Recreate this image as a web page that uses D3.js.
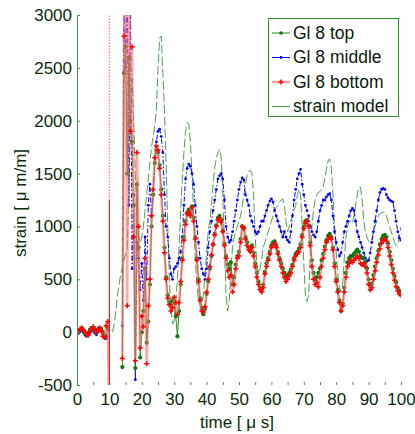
<!DOCTYPE html>
<html><head><meta charset="utf-8">
<script src="https://cdn.jsdelivr.net/npm/d3@7"></script>
<style>
body{margin:0;background:#fff}
svg{display:block}
text{font-family:"Liberation Sans",Arial,Helvetica,sans-serif}
</style>
</head><body>
<svg id="c" width="415" height="434"></svg>
<script>
// ---------------- data (strain in µm/m, sampled every 0.5 µs from 0 to 100 µs) ----------------
const seriesNames = ["Gl 8 top", "Gl 8 middle", "Gl 8 bottom", "strain model"];
const xTicks = [0, 10, 20, 30, 40, 50, 60, 70, 80, 90, 100];
const xMinorTicks = [0, 5, 10, 15, 20, 25, 30, 35, 40, 45, 50, 55, 60, 65, 70, 75, 80, 85, 90, 95, 100];
const yTicks = [-500, 0, 500, 1000, 1500, 2000, 2500, 3000];

const gl8Top = [
  0, 10, 25, 35, 15, -10, -25, -5, 25, 40,
  35, 10, -5, 20, 40, 30, 0, -30, -40, 40,
  null, null, null, null, null, null, null, null, -330, 2450,
  2700, 1500, 2600, 2000, 1800, 1200, -340, 1400, 800, -240,
  0, 200, 600, -100, 100, 450, 1000, 1300, 1600, 1720,
  1700, 1580, 1350, 1100, 800, 520, 350, 280, 250, 300,
  280, 150, -40, 200, 450, 700, 900, 1050, 1130, 1160,
  1120, 1190, 1080, 900, 700, 500, 320, 230, 170, 220,
  360, 480, 600, 720, 830, 930, 1010, 1080, 1100, 1060,
  960, 840, 720, 640, 600, 660, 450, 520, 640, 720,
  760, 880, 1000, 990, 900, 850, 800, 780, 820, 750,
  650, 560, 480, 420, 400, 450, 570, 650, 700, 760,
  820, 850, 860, 820, 760, 700, 650, 600, 560, 520,
  540, 560, 590, 640, 700, 740, 760, 790, 830, 920,
  1000, 1050, 1060, 1010, 850, 680, 560, 500, 520, 560,
  600, 680, 740, 810, 870, 910, 930, 900, 800, 650,
  500, 400, 300, 200, 270, 420, 560, 660, 700, 720,
  720, 740, 760, 780, 760, 720, 700, 700, 660, 600,
  500, 440, 460, 540, 620, 700, 770, 830, 880, 910,
  920, 900, 840, 760, 680, 600, 530, 470, 420, 390,
  370
];

const gl8Middle = [
  -20, -10, 5, 15, -5, -30, -40, -25, 5, 20,
  15, -10, -25, 0, 20, 10, -20, -50, -60, 20,
  null, null, null, null, null, null, null, null, 60, 3300,
  2500, 3400, 1200, 3300, 600, 1300, -450, 850, 700, 400,
  650, 300, 900, 500, 1200, 1400, 1100, 1300, 1600, 1800,
  1900, 1920, 1850, 1700, 1300, 1000, 900, 700, 550, 500,
  600, 620, 650, 700, 760, 900, 1200, 1450, 1550, 1590,
  1570, 1500, 1400, 1200, 1000, 850, 700, 600, 550, 500,
  600, 800, 950, 1050, 1150, 1250, 1350, 1450, 1480, 1500,
  1450, 1250, 1000, 900, 850, 870, 950, 1050, 1150, 1250,
  1350, 1420, 1460, 1440, 1300, 1250, 1200, 1100, 1050, 1000,
  950, 930, 950, 1000, 1050, 1050, 1100, 1150, 1200, 1240,
  1260, 1230, 1150, 1100, 1050, 1000, 950, 900, 950, 900,
  870, 850, 950, 1100, 1250, 1350, 1450, 1500, 1540, 1400,
  1300, 1200, 1150, 1100, 1000, 950, 920, 900, 950, 1050,
  1150, 1200, 1250, 1250, 1280, 1300, 1310, 1250, 1100, 950,
  850, 780, 720, 750, 850, 950, 1000, 1050, 1100, 1150,
  1170, 1150, 1050, 950, 900, 850, 800, 750, 700, 670,
  680, 750, 850, 950, 1050, 1150, 1250, 1320, 1350, 1360,
  1350, 1300, 1270, 1250, 1240, 1230, 1150, 1050, 950, 890,
  870
];

const gl8Bottom = [
  -10, 10, 30, 40, 20, 0, -20, -30, 0, 30,
  50, 30, 0, 30, 40, 10, -40, -50, 60, 100,
  -900, null, null, null, null, null, null, null, -250, 2800,
  3400, 250, 3500, 1900, 2700, 900, -270, 1700, 1000, -150,
  150, 50, 700, -300, 250, 500, 1100, 1350, 1650, 1760,
  1720, 1550, 1300, 1050, 750, 500, 320, 260, 200, 230,
  330, 280, 170, 280, 480, 680, 870, 1020, 1120, 1140,
  1100, 1180, 1050, 880, 680, 480, 300, 200, 190, 240,
  380, 500, 620, 730, 830, 920, 1000, 1060, 1080, 1040,
  950, 820, 700, 580, 520, 540, 380, 450, 600, 700,
  720, 850, 1000, 980, 880, 820, 780, 760, 800, 720,
  620, 520, 450, 400, 380, 420, 550, 620, 680, 740,
  800, 820, 840, 800, 740, 680, 620, 560, 520, 480,
  500, 530, 560, 620, 680, 720, 740, 760, 800, 900,
  980, 1030, 1050, 1000, 820, 620, 500, 450, 470, 430,
  520, 620, 700, 780, 850, 880, 900, 880, 780, 620,
  480, 380, 280, 200, 250, 380, 520, 620, 650, 680,
  660, 680, 700, 720, 700, 650, 640, 650, 620, 560,
  450, 400, 420, 500, 580, 660, 730, 790, 840, 870,
  880, 860, 800, 720, 640, 560, 490, 430, 390, 360,
  350
];
// bottom gauge glitch at the trigger (solid part, then dotted part)
const glitchTime = [10, 10];
const glitchSolid = [-900, 1250];
const glitchDotted = [1250, 3400];

const strainModel = [
  null, null, null, null, null, null, null, null, null, null,
  null, null, null, null, null, null, null, null, null, null,
  null, null, 0, 80, 200, 350, 450, 550, 620, 680,
  740, 800, 1300, 2000, 2400, 2000, 1500, 1100, 900, 850,
  900, 1000, 1150, 1300, 1450, 1600, 1750, 1850, 1950, 2100,
  2500, 2780, 2800, 2450, 2100, 1600, 1000, 500, 200, 80,
  100, 300, 500, 800, 1150, 1450, 1700, 1900, 1980, 1970,
  1800, 1500, 1100, 700, 450, 300, 250, 250, 350, 550,
  750, 950, 1050, 1200, 1400, 1550, 1650, 1700, 1730, 1650,
  1300, 800, 350, 200, 300, 600, 800, 900, 950, 1000,
  1050, 1100, 1200, 1300, 1400, 1480, 1520, 1530, 1500, 1300,
  900, 650, 560, 600, 700, 800, 850, 900, 950, 1000,
  1050, 1100, 1150, 1180, 1200, 1230, 1250, 1260, 1200, 1050,
  950, 1000, 1050, 1100, 1150, 1200, 1300, 1350, 1300, 1000,
  650, 350, 290, 350, 700, 1000, 1150, 1250, 1300, 1320,
  1330, 1350, 1380, 1450, 1550, 1620, 1640, 1550, 1300, 1000,
  750, 550, 420, 380, 450, 700, 900, 1000, 1050, 1050,
  1030, 1100, 1200, 1300, 1370, 1370, 1250, 1050, 950, 900,
  860, 850, 880, 950, 1000, 1050, 1100, 1120, 1130, 1135,
  1130, 1100, 1050, 1000, 950, 900, 850, 820, 830, 900,
  1000
];
const sampleStep = 0.5;

// ---------------- chart ----------------
const svg = d3.select("#c");
const L = 77, R = 401, T = 15, B = 385;
const x = d3.scaleLinear().domain([0, 100]).range([L, R]);
const y = d3.scaleLinear().domain([-500, 3000]).range([B, T]);
const textCol = "#0b2a0b";
const axisCol = "#3c9c3c";

svg.append("defs").append("clipPath").attr("id", "plot")
  .append("rect").attr("x", L).attr("y", T).attr("width", R - L).attr("height", B - T);

const toPts = vals => vals.map((v, i) => [i * sampleStep, v]);
const line = d3.line().defined(d => d[1] != null).x(d => x(d[0])).y(d => y(d[1]));

const plot = svg.append("g").attr("clip-path", "url(#plot)");

const styles = {
  top:    {stroke: "#1f8f1f", width: 1, dash: null, opacity: 1},
  middle: {stroke: "#0000ff", width: 1, dash: "5,2,1.5,2", opacity: 1},
  bottom: {stroke: "#ff6a6a", width: 2.6, dash: null, opacity: 0.6},
  model:  {stroke: "#2f8f2f", width: 1, dash: "9,3", opacity: 0.85}
};

function drawLine(vals, st) {
  plot.append("path").datum(toPts(vals)).attr("d", line)
    .attr("fill", "none").attr("stroke", st.stroke).attr("stroke-width", st.width)
    .attr("stroke-dasharray", st.dash).attr("opacity", st.opacity);
}

// model
drawLine(strainModel, styles.model);
// middle
drawLine(gl8Middle, styles.middle);
plot.append("g").selectAll("circle").data(toPts(gl8Middle).filter(d => d[1] != null))
  .join("circle").attr("cx", d => x(d[0])).attr("cy", d => y(d[1])).attr("r", 1.4).attr("fill", "#0000ff");
// top
drawLine(gl8Top, styles.top);
plot.append("g").selectAll("circle").data(toPts(gl8Top).filter(d => d[1] != null))
  .join("circle").attr("cx", d => x(d[0])).attr("cy", d => y(d[1])).attr("r", 2.1).attr("fill", "#0b7a0b");
// bottom
drawLine(gl8Bottom, styles.bottom);
const glitchS = glitchTime.map((t, i) => [t, glitchSolid[i]]);
const glitchD = glitchTime.map((t, i) => [t, glitchDotted[i]]);
plot.append("path").datum(glitchS).attr("d", line).attr("fill", "none").attr("stroke", "#ff1a1a").attr("stroke-width", 1.2);
plot.append("path").datum(glitchD).attr("d", line).attr("fill", "none").attr("stroke", "#ff7a7a").attr("stroke-width", 1.4).attr("stroke-dasharray", "1.5,1.5");
const plus = "M-2.5,0H2.5M0,-2.5V2.5";
plot.append("g").selectAll("path").data(toPts(gl8Bottom).filter(d => d[1] != null))
  .join("path").attr("transform", d => `translate(${x(d[0])},${y(d[1])})`)
  .attr("d", plus).attr("stroke", "#ff0000").attr("stroke-width", 1.5).attr("fill", "none");

// ---------------- axes ----------------
const yAxis = svg.append("g").attr("transform", `translate(${L},0)`)
  .call(d3.axisLeft(y).tickValues(yTicks).tickFormat(d => String(d)).tickSize(-3).tickSizeOuter(0).tickPadding(5));
yAxis.select(".domain").attr("stroke", axisCol);
yAxis.selectAll(".tick line").attr("stroke", axisCol);
yAxis.selectAll("text").attr("fill", textCol).style("font-size", "17px")
  .style("font-family", '"Liberation Sans",Arial,sans-serif');

const xAxis = svg.append("g").attr("transform", `translate(0,${B})`)
  .call(d3.axisBottom(x).tickValues(xMinorTicks).tickSize(-3).tickSizeOuter(0).tickPadding(8)
    .tickFormat(d => xTicks.includes(d) ? String(d) : ""));
xAxis.select(".domain").remove();
xAxis.selectAll(".tick line").attr("stroke", axisCol);
xAxis.selectAll("text").attr("fill", textCol).style("font-size", "17px")
  .style("font-family", '"Liberation Sans",Arial,sans-serif');

svg.append("text").attr("x", 237).attr("y", 428).attr("text-anchor", "middle")
  .attr("fill", textCol).style("font-size", "17px").text("time [ μ s]");
svg.append("text").attr("transform", "translate(26,203) rotate(-90)").attr("text-anchor", "middle")
  .attr("fill", textCol).style("font-size", "17px").text("strain [ μ m/m]");

// ---------------- legend ----------------
const lg = svg.append("g");
lg.append("rect").attr("x", 268.5).attr("y", 18.5).attr("width", 130).attr("height", 98)
  .attr("fill", "#fff").attr("stroke", "#2f8f2f").attr("stroke-width", 1);
const legendKeys = ["top", "middle", "bottom", "model"];
seriesNames.forEach((name, i) => {
  const yy = 33 + i * 24.5;
  const st = styles[legendKeys[i]];
  lg.append("line").attr("x1", 272).attr("x2", 290).attr("y1", yy).attr("y2", yy)
    .attr("stroke", st.stroke).attr("stroke-width", st.width).attr("opacity", st.opacity);
  if (i === 0) lg.append("circle").attr("cx", 281).attr("cy", yy).attr("r", 1.8).attr("fill", "#0b7a0b");
  if (i === 1) lg.append("circle").attr("cx", 281).attr("cy", yy).attr("r", 1.4).attr("fill", "#0000ff");
  if (i === 2) lg.append("path").attr("transform", `translate(281,${yy})`).attr("d", plus)
    .attr("stroke", "#ff0000").attr("stroke-width", 1.5);
  lg.append("text").attr("x", 293).attr("y", yy + 5.5).attr("fill", "#0a1a0a")
    .style("font-size", "17.5px").text(name);
});
</script>
</body></html>
